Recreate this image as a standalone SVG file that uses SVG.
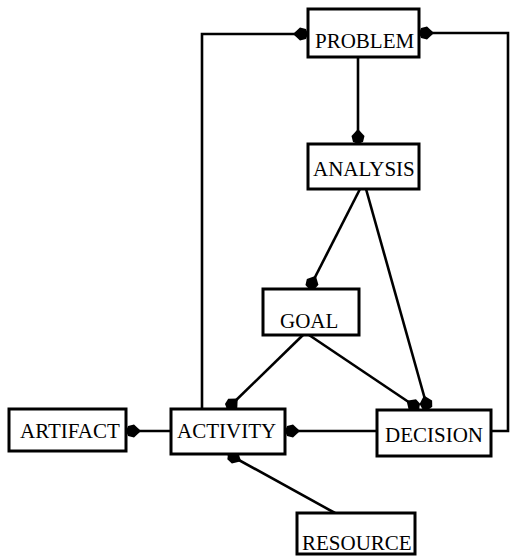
<svg xmlns="http://www.w3.org/2000/svg" width="514" height="560" viewBox="0 0 514 560">
<style>
.box{fill:#fff;stroke:#000;stroke-width:3}
.lbl{font-family:"Liberation Serif","Times New Roman",serif;font-size:21px;fill:#000}
.edge{fill:none;stroke:#000;stroke-width:2.6}
</style>
<defs>
<marker id="arr" markerUnits="userSpaceOnUse" viewBox="-18 -8 19 16" markerWidth="19" markerHeight="16" refX="0" refY="0" orient="auto">
<path d="M0,0 L-2,-5 L-8,-6.5 L-15,0 L-8,6.5 L-2,5 Z" fill="#000"/>
</marker>
</defs>
<rect width="514" height="560" fill="#fff"/>
<g id="connectors">
<path class="edge" d="M358,57 L358,144" marker-end="url(#arr)"/>
<path class="edge" d="M360,189 L309,289" marker-end="url(#arr)"/>
<path class="edge" d="M366,189 L428,410" marker-end="url(#arr)"/>
<path class="edge" d="M303,335 L227,409" marker-end="url(#arr)"/>
<path class="edge" d="M309,335 L419,409" marker-end="url(#arr)"/>
<path class="edge" d="M377,431 L285,431" marker-end="url(#arr)"/>
<path class="edge" d="M171,431 L126,431" marker-end="url(#arr)"/>
<path class="edge" d="M335,513 L228,454" marker-end="url(#arr)"/>
<path class="edge" d="M202,409 L202,34 L308,34" marker-end="url(#arr)"/>
<path class="edge" d="M491,431 L508,431 L508,33 L419,33" marker-end="url(#arr)"/>
</g>
<g id="problem"><rect class="box" x="308" y="9" width="111" height="48"/><text class="lbl" x="315" y="48">PROBLEM</text></g>
<g id="analysis"><rect class="box" x="308" y="144" width="111" height="45"/><text class="lbl" x="313" y="176">ANALYSIS</text></g>
<g id="goal"><rect class="box" x="263" y="289" width="96" height="46"/><text class="lbl" x="280" y="328">GOAL</text></g>
<g id="artifact"><rect class="box" x="9" y="409" width="117" height="42"/><text class="lbl" x="20" y="438">ARTIFACT</text></g>
<g id="activity"><rect class="box" x="171" y="409" width="114" height="45"/><text class="lbl" x="177" y="438">ACTIVITY</text></g>
<g id="decision"><rect class="box" x="377" y="410" width="114" height="46"/><text class="lbl" x="385" y="442">DECISION</text></g>
<g id="resource"><rect class="box" x="297" y="513" width="118" height="41"/><text class="lbl" x="302" y="550">RESOURCE</text></g>
</svg>
